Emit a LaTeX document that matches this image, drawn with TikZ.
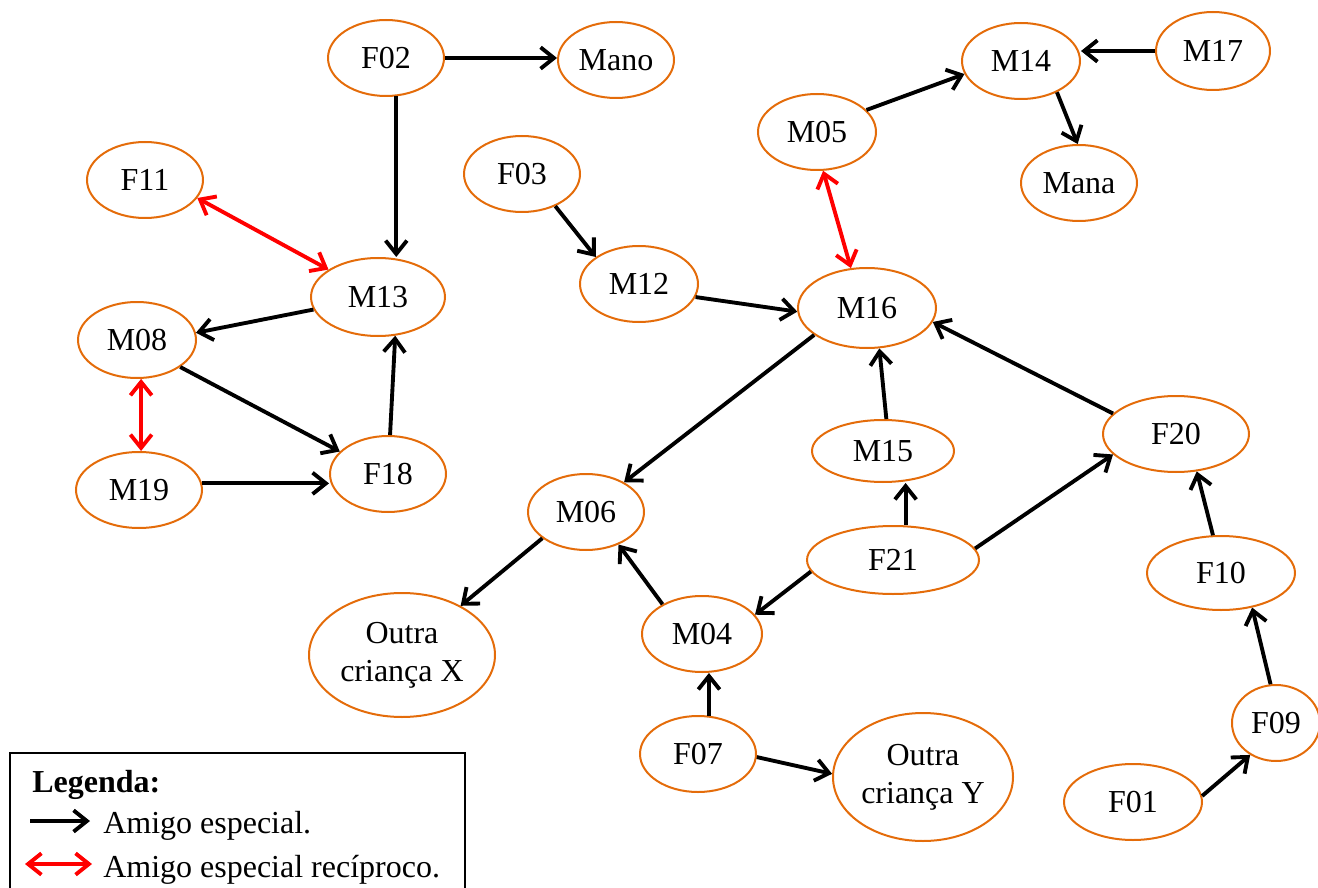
\documentclass[tikz,border=0pt]{standalone}
\usepackage{fontspec}
\setmainfont{Liberation Serif}
\usetikzlibrary{shapes.geometric,arrows.meta}
\definecolor{orangeC}{HTML}{E46C0A}
\begin{document}
\begin{tikzpicture}[x=0.75pt,y=-0.75pt,
 every node/.style={font=\fontsize{24}{28.5}\selectfont},
 pers/.style 2 args={ellipse, draw=orangeC, line width=1.5pt, inner sep=0pt,
   minimum width={#1*1.5pt}, minimum height={#2*1.5pt}, align=center},
 arr/.style={line width=2.9pt, -{Straight Barb[length=10pt,width=16pt]}},
 rarr/.style={line width=2.9pt, red, {Straight Barb[length=10pt,width=16pt]}-{Straight Barb[length=10pt,width=16pt]}},
]
\useasboundingbox (0,0) rectangle (1318,888);
\clip (0,0) rectangle (1318,888);

% nodes
\node[pers={58}{38}] (F02) at (386,58) {F02};
\node[pers={58}{38}] (Mano) at (616,60) {Mano};
\node[pers={57}{39}] (M17) at (1213,51) {M17};
\node[pers={59}{38}] (M14) at (1021,61) {M14};
\node[pers={59}{38}] (M05) at (817,132) {M05};
\node[pers={58}{38}] (Mana) at (1079,183) {Mana};
\node[pers={58}{38}] (F11) at (145,180) {F11};
\node[pers={58}{38}] (F03) at (522,174) {F03};
\node[pers={67}{39}] (M13) at (378,297) {M13};
\node[pers={59}{38}] (M08) at (137,340) {M08};
\node[pers={59}{38}] (M12) at (639,284) {M12};
\node[pers={69}{40}] (M16) at (867,308) {M16};
\node[pers={63}{38}] (M19) at (139,490) {M19};
\node[pers={58}{38}] (F18) at (388,474) {F18};
\node[pers={71}{31}] (M15) at (883,451) {M15};
\node[pers={73}{38}] (F20) at (1176,434) {F20};
\node[pers={58}{38}] (M06) at (586,512) {M06};
\node[pers={86}{34}] (F21) at (893,560) {F21};
\node[pers={74}{37}] (F10) at (1221,573) {F10};
\node[pers={93}{62}] (X) at (402,655) {Outra\\criança X};
\node[pers={60}{38}] (M04) at (702,634) {M04};
\node[pers={44}{38}] (F09) at (1276,723) {F09};
\node[pers={58}{38}] (F07) at (698,754) {F07};
\node[pers={90}{64}] (Y) at (923,777) {Outra\\criança Y};
\node[pers={69}{38}] (F01) at (1133,802) {F01};

% connectors
\draw[arr] (F02.east) -- (F02.east -| Mano.west);
\draw[arr] (F02.-75) -- (F02.-75 |- M13.north);
\draw[rarr] (F11.-19) -- (M13.151);
\draw[arr] (M13.191) -- (M08.7);
\draw[arr] (M08.-32) -- (F18.155);
\draw[rarr] (M08.-84) -- (M08.-84 |- M19.north);
\draw[arr] (M19.6) -- (M19.6 -| F18.west);
\draw[arr] (F18.87) -- (M13.-66);
\draw[arr] (F03.-44) -- (M12.148);
\draw[arr] (M12.-13) -- (M16.183);
\draw[arr] (M05.24) -- (M14.193);
\draw[rarr] (M05.-81) -- (M16.112);
\draw[arr] (M17.west) -- (M17.west -| M14.east);
\draw[arr] (M14.-41) -- (Mana.92);
\draw[arr] (M16.207) -- (M06.38);
\draw[arr] (M15.84) -- (M16.-73);
\draw[arr] (F20.162) -- (M16.-12);
\draw[arr] (F21.70) -- (F21.70 |- M15.south);
\draw[arr] (F21.8) -- (F20.198);
\draw[arr] (F21.188) -- (M04.20);
\draw[arr] (M04.143) -- (M06.-45);
\draw[arr] (M06.211) -- (X.40);
\draw[arr] (F07.74) -- (F07.74 |- M04.south);
\draw[arr] (F07.-3) -- (Y.178);
\draw[arr] (F01.5) -- (F09.231);
\draw[arr] (F09.98) -- (F10.-48);
\draw[arr] (F10.102) -- (F20.-61);

% legend
\node[draw, line width=1.2pt, inner sep=0pt, anchor=north west,
      minimum width={455*0.75pt}, minimum height={150*0.75pt}] (legend) at (9,752) {};
\node[anchor=base west, inner sep=0pt, font=\fontsize{24}{28.5}\selectfont\bfseries] (leg) at (32,792) {Legenda:};
\coordinate (l1a) at (30,821);
\coordinate (l1b) at (90,821);
\coordinate (l2a) at (25,864);
\coordinate (l2b) at (92,864);
\draw[arr] (l1a) -- (l1b);
\draw[rarr] (l2a) -- (l2b);
\node[anchor=base west, inner sep=0pt] (t1) at (103,833) {Amigo especial.};
\node[anchor=base west, inner sep=0pt] (t2) at (103,877) {Amigo especial recíproco.};
\end{tikzpicture}
\end{document}
